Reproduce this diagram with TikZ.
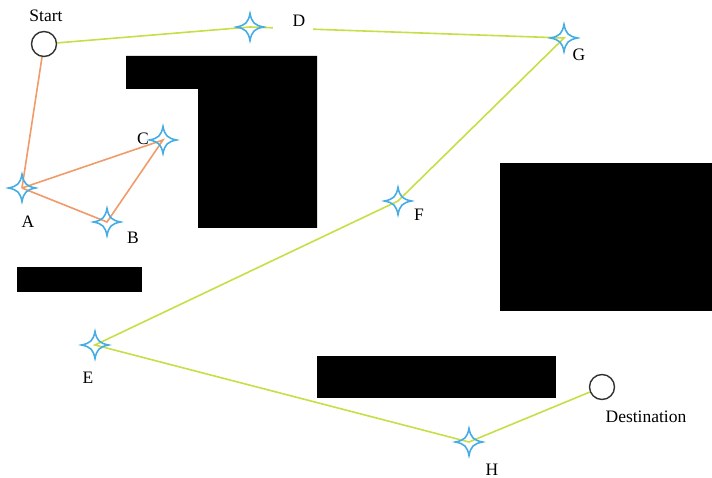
\documentclass[tikz,border=0pt]{standalone}
\usepackage{fontspec}
\setmainfont{Liberation Serif}
\definecolor{pathgreen}{RGB}{200,222,70}
\definecolor{pathorange}{RGB}{240,155,105}
\definecolor{wpblue}{RGB}{70,172,228}
\tikzset{
  gline/.style={pathgreen,line width=1.6pt},
  oline/.style={pathorange,line width=1.6pt},
  endcirc/.style={circle,draw=black!80,line width=1.4pt,minimum size=25pt,inner sep=0pt},
  lbl/.style={inner sep=0pt,font=\fontsize{17.5}{20}\selectfont},
  obst/.style={fill=black},
  wp/.pic={\draw[wpblue,line width=1.6pt]
     (0,13.5) .. controls (1.8,4.5) and (4.5,1.8) .. (13.5,0)
     .. controls (4.5,-1.8) and (1.8,-4.5) .. (0,-13.5)
     .. controls (-1.8,-4.5) and (-4.5,-1.8) .. (-13.5,0)
     .. controls (-4.5,1.8) and (-1.8,4.5) .. (0,13.5) -- cycle;}
}
\begin{document}
\begin{tikzpicture}[x=1pt,y=-1pt]
\useasboundingbox (0,0) rectangle (712,478);
% obstacles
\fill[obst] (126,56) -- (317,56) -- (317,228) -- (198,228) -- (198,89) -- (126,89) -- cycle;
\fill[obst] (500,163) rectangle (712,311);
\fill[obst] (17,267) rectangle (142,292);
\fill[obst] (317,356) rectangle (556,398);
% waypoints
\node[endcirc] (St) at (44,44) {};
\node[endcirc] (Dst) at (602,387) {};
\coordinate (A) at (22,188);
\coordinate (B) at (107,222);
\coordinate (C) at (163,140);
\coordinate (D) at (250,27);
\coordinate (G) at (564,38);
\coordinate (F) at (398,201);
\coordinate (E) at (95,345);
\coordinate (H) at (469,442);
% connectors
\draw[oline] (St) -- (A);
\draw[oline] (A) -- (C) -- (B) -- (A);
\draw[gline] (St) -- (D) -- (G) -- (F) -- (E) -- (H) -- (Dst);
\fill[white] (273,18) rectangle (313,35);
% stars
\foreach \p in {A,B,C,D,G,F,E,H} \pic at (\p) {wp};
% labels
\node[lbl] (lStart) at (46,16) {Start};
\node[lbl] (lA) at (28,222) {A};
\node[lbl] (lB) at (133,238) {B};
\node[lbl] (lC) at (143,139) {C};
\node[lbl] (lD) at (299,21) {D};
\node[lbl] (lG) at (579,55) {G};
\node[lbl] (lF) at (419,215) {F};
\node[lbl] (lE) at (88,378) {E};
\node[lbl] (lH) at (492,470) {H};
\node[lbl] (lDst) at (646,417) {Destination};
\end{tikzpicture}
\end{document}
